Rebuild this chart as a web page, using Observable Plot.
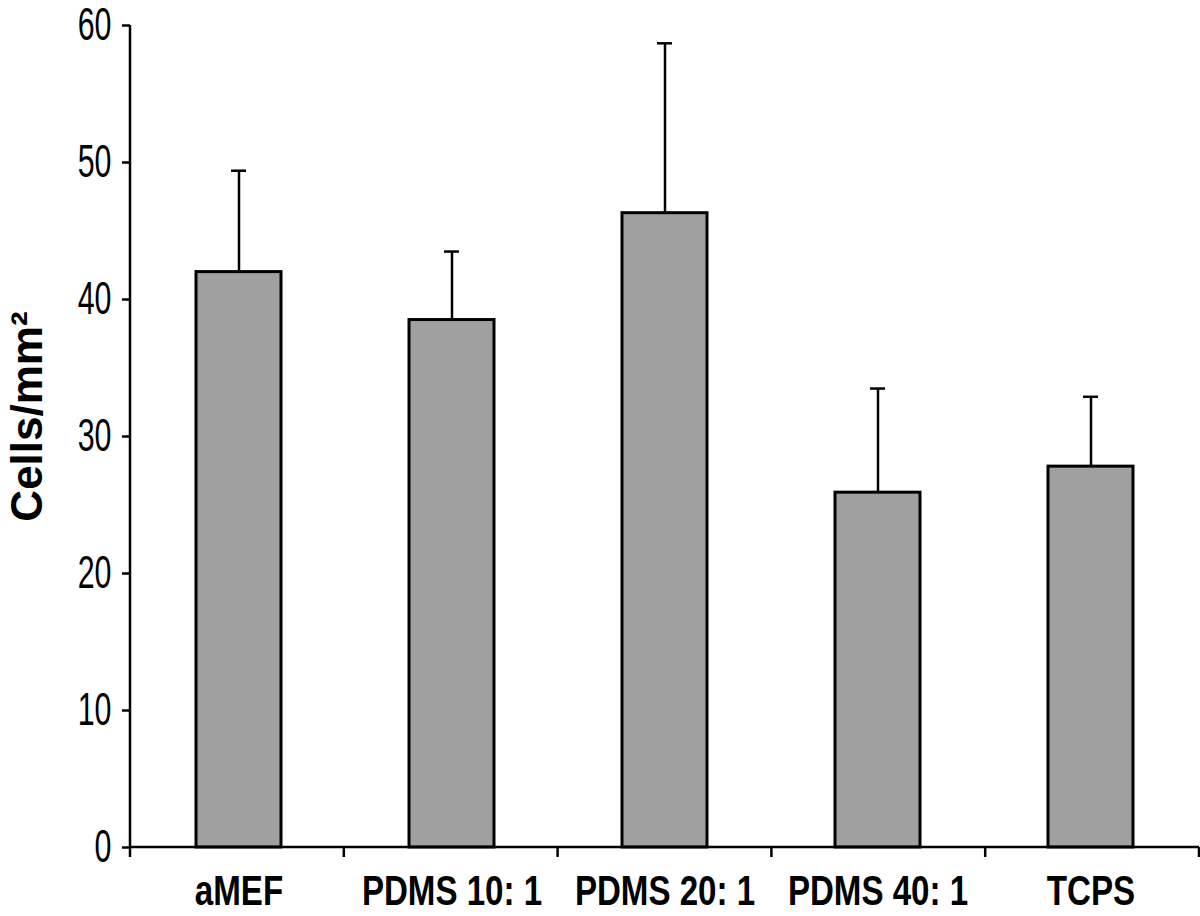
<!DOCTYPE html>
<html>
<head>
<meta charset="utf-8">
<script src="https://cdn.jsdelivr.net/npm/d3@7"></script>
<script src="https://cdn.jsdelivr.net/npm/@observablehq/plot@0.6"></script>
<style>
  html, body { margin: 0; padding: 0; background: #fff; }
</style>
</head>
<body>
<div id="chart"></div>
<script>
const categories = ["aMEF", "PDMS 10: 1", "PDMS 20: 1", "PDMS 40: 1", "TCPS"];
const means = [42.0, 38.5, 46.3, 25.9, 27.8];
const errors = [7.4, 5.0, 12.4, 7.6, 5.1];
const yTicks = [0, 10, 20, 30, 40, 50, 60];
const yLabel = "Cells/mm²";

const data = categories.map((c, i) => ({cat: c, mean: means[i], upper: means[i] + errors[i]}));

const font = "'Liberation Sans', Arial, Helvetica, sans-serif";

// axis lines + band boundary ticks, derived from scales/dimensions
function axisFrame(index, scales, values, dims) {
  const g = d3.create("svg:g").attr("stroke", "#000").attr("stroke-width", 2.5).attr("fill", "none");
  const left = dims.marginLeft, right = dims.width - dims.marginRight;
  const y0 = scales.y(0), yTop = scales.y(d3.max(yTicks));
  const n = categories.length;
  const step = (right - left) / n;
  g.append("line").attr("x1", left).attr("x2", left).attr("y1", yTop).attr("y2", y0 + 10);
  g.append("line").attr("x1", left).attr("x2", right).attr("y1", y0).attr("y2", y0);
  for (let i = 1; i <= n; i++) {
    const x = left + i * step;
    g.append("line").attr("x1", x).attr("x2", x).attr("y1", y0).attr("y2", y0 + 10);
  }
  return g.node();
}

const chart = Plot.plot({
  width: 1200,
  height: 916,
  marginLeft: 130,
  marginRight: 1,
  marginTop: 25,
  marginBottom: 69,
  style: {fontFamily: font, color: "#000", background: "#fff", overflow: "visible"},
  x: {domain: categories, paddingInner: 0.6, paddingOuter: 0.3, align: 0.5, label: null},
  y: {domain: [0, 60], label: null},
  marks: [
    Plot.barY(data, {x: "cat", y: "mean", fill: "#a0a0a0", stroke: "#000", strokeWidth: 3}),
    Plot.ruleX(data, {x: "cat", y1: "mean", y2: "upper", stroke: "#000", strokeWidth: 2.5}),
    Plot.tickY(data, {x: "cat", y: "upper", stroke: "#000", strokeWidth: 2.5, insetLeft: 35, insetRight: 35}),
    axisFrame,
    Plot.axisY({ticks: yTicks, tickSize: 8, tickPadding: 11, fontSize: 46, strokeWidth: 2.5, label: null}),
    Plot.axisX({tickSize: 0, tickPadding: 27, fontSize: 43, fontWeight: "bold", label: null}),
    Plot.text([yLabel], {frameAnchor: "left", rotate: -90, dx: -89, dy: -20, lineAnchor: "bottom",
      textAnchor: "middle", fontSize: 44, fontWeight: "bold", fill: "#000", ariaLabel: "y-label",
      style: {letterSpacing: "4px"}})
  ]
});

// condensed look (the original uses a narrow Helvetica)
const svg = d3.select(chart);
svg.selectAll('[aria-label="x-axis tick label"] text').attr("transform", function () {
  return (this.getAttribute("transform") || "") + " scale(0.77,1)";
});
svg.selectAll('[aria-label="y-axis tick label"] text').attr("transform", function () {
  return (this.getAttribute("transform") || "") + " scale(0.66,1)";
});
svg.selectAll('[aria-label="y-label"] text').attr("transform", function () {
  return (this.getAttribute("transform") || "") + " scale(0.82,1)";
});

document.getElementById("chart").appendChild(chart);
</script>
</body>
</html>
